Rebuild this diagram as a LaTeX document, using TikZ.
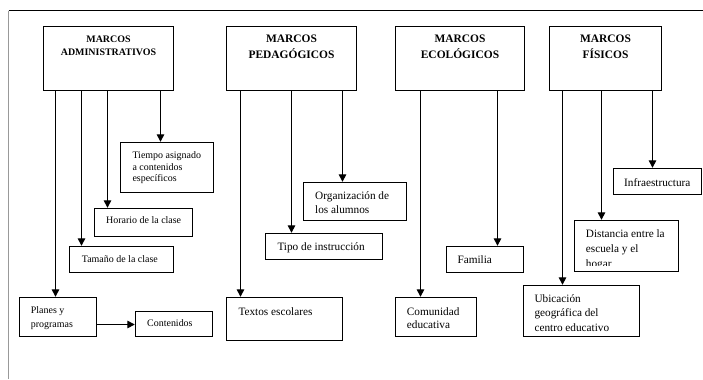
\documentclass[tikz,border=0pt]{standalone}
\usepackage{fontspec}
\setmainfont{Liberation Serif}
\usetikzlibrary{arrows.meta,fit}
\begin{document}
\begin{tikzpicture}[x=1bp,y=-1bp,
  boxst/.style={draw=black, line width=1.4bp, inner sep=0pt, fit={#1}},
  arr/.style={draw=black, line width=1.3bp, -{Triangle[length=7.5bp,width=7.5bp]}},
  txtA/.style={inner sep=0pt, anchor=base west, font=\fontsize{10}{#1}\selectfont},
  txtB/.style={inner sep=0pt, anchor=base west, font=\fontsize{11.3}{#1}\selectfont},
  hdrA/.style={inner sep=0pt, anchor=base, font=\fontsize{10}{13.7}\selectfont\bfseries},
  hdrB/.style={inner sep=0pt, anchor=base, font=\fontsize{11.5}{15.3}\selectfont\bfseries}]
\useasboundingbox (0,0) rectangle (703,379);
% frame
\draw[line width=1.1bp] (8.5,10.5) -- (703,10.5);
\draw[line width=1.1bp, gray!80] (8.5,10.5) -- (8.5,379);
% header boxes
\node[boxst={(43.5,26.5) (173.5,90.5)}] (A) {};
\node[boxst={(226.5,26.5) (356.5,90.5)}] (P) {};
\node[boxst={(395.5,26.5) (524.5,90.5)}] (E) {};
\node[boxst={(549.5,26.5) (661.5,90.5)}] (F) {};
\node[hdrA] (At) at (108.5,42.3) {\begin{tabular}[t]{@{}c@{}}MARCOS\\ADMINISTRATIVOS\end{tabular}};
\node[hdrB] (Pt) at (291.5,42.8) {\begin{tabular}[t]{@{}c@{}}MARCOS\\PEDAGÓGICOS\end{tabular}};
\node[hdrB] (Et) at (460,42.8) {\begin{tabular}[t]{@{}c@{}}MARCOS\\ECOLÓGICOS\end{tabular}};
\node[hdrB] (Ft) at (605.5,42.8) {\begin{tabular}[t]{@{}c@{}}MARCOS\\FÍSICOS\end{tabular}};
% item boxes
\node[boxst={(120.5,142.5) (213.5,192.5)}] (tiempo) {};
\node[boxst={(94.5,208.5) (192.5,236.5)}] (horario) {};
\node[boxst={(69.5,246.5) (173.5,272.5)}] (tamano) {};
\node[boxst={(19.5,297.5) (96.5,336.5)}] (planes) {};
\node[boxst={(135.5,311.5) (212.5,336.5)}] (contenidos) {};
\node[boxst={(303.5,182.5) (406.5,220.5)}] (org) {};
\node[boxst={(265.5,233.5) (382.5,259.5)}] (tipo) {};
\node[boxst={(226.5,297.5) (342.5,340.5)}] (textos) {};
\node[boxst={(446.5,246.5) (523.5,272.5)}] (familia) {};
\node[boxst={(395.5,297.5) (476.5,336.5)}] (comunidad) {};
\node[boxst={(613.5,168.5) (701.5,194.5)}] (infra) {};
\node[boxst={(574.5,220.5) (678.5,271.5)}] (distancia) {};
\node[boxst={(523.5,285.5) (639.5,336.5)}] (ubicacion) {};
% texts
\node[txtA=11.7] (tiempoT) at (132.3,158.5) {\begin{tabular}[t]{@{}l@{}}Tiempo asignado\\a contenidos\\específicos\end{tabular}};
\node[txtA=12] (horarioT) at (106,223.2) {Horario de la clase};
\node[txtA=12] (tamanoT) at (81.7,262.5) {Tamaño de la clase};
\node[txtA=14.3] (planesT) at (30.7,313.2) {\begin{tabular}[t]{@{}l@{}}Planes y\\programas\end{tabular}};
\node[txtA=12] (contenidosT) at (147,326.2) {Contenidos};
\node[txtB=15] (orgT) at (315,199) {\begin{tabular}[t]{@{}l@{}}Organización de\\los alumnos\end{tabular}};
\node[txtB=15] (tipoT) at (277.3,250) {Tipo de instrucción};
\node[txtB=15] (textosT) at (238.3,315) {Textos escolares};
\node[txtB=13.3] (comunidadT) at (406.7,315) {\begin{tabular}[t]{@{}l@{}}Comunidad\\educativa\end{tabular}};
\node[txtB=15] (familiaT) at (457.3,263.3) {Familia};
\node[txtB=14.7] (ubicacionT) at (534.3,302.3) {\begin{tabular}[t]{@{}l@{}}Ubicación\\geográfica del\\centro educativo\end{tabular}};
\node[txtB=15] (infraT) at (624,186.7) {Infraestructura};
\begin{scope}
\clip (575,221) rectangle (678,265.5);
\node[txtB=15] (distanciaT) at (585.7,237.3) {\begin{tabular}[t]{@{}l@{}}Distancia entre la\\escuela y el\\hogar\end{tabular}};
\end{scope}
% connectors
\draw[arr] (A.south -| 160.5,0) -- (tiempo.north -| 160.5,0);
\draw[arr] (A.south -| 107.5,0) -- (horario.north -| 107.5,0);
\draw[arr] (A.south -| 81.5,0) -- (tamano.north -| 81.5,0);
\draw[arr] (A.south -| 55.5,0) -- (planes.north -| 55.5,0);
\draw[arr] (planes.east |- 0,324.5) -- (contenidos.west |- 0,324.5);
\draw[arr] (P.south -| 342.5,0) -- (org.north -| 342.5,0);
\draw[arr] (P.south -| 291.5,0) -- (tipo.north -| 291.5,0);
\draw[arr] (P.south -| 240.5,0) -- (textos.north -| 240.5,0);
\draw[arr] (E.south -| 497.5,0) -- (familia.north -| 497.5,0);
\draw[arr] (E.south -| 420.5,0) -- (comunidad.north -| 420.5,0);
\draw[arr] (F.south -| 652.5,0) -- (infra.north -| 652.5,0);
\draw[arr] (F.south -| 601.5,0) -- (distancia.north -| 601.5,0);
\draw[arr] (F.south -| 562.5,0) -- (ubicacion.north -| 562.5,0);
\end{tikzpicture}
\end{document}
